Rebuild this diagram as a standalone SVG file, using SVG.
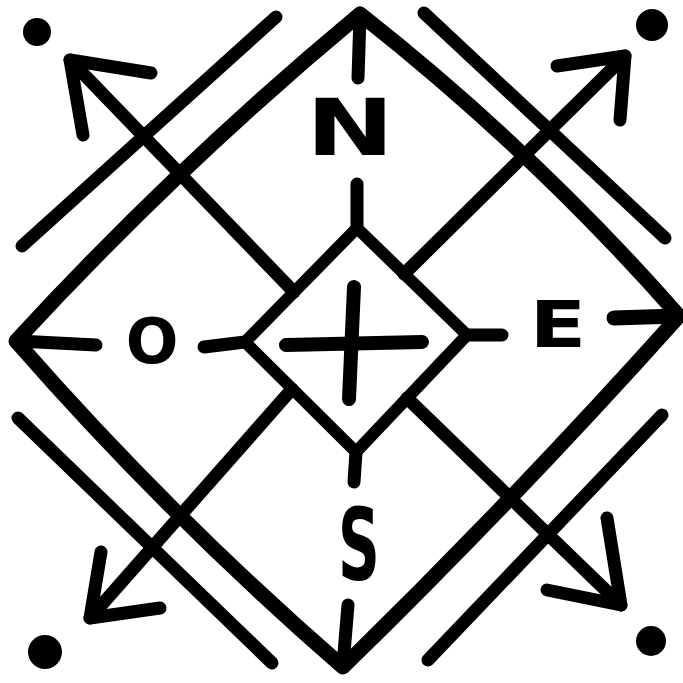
<svg xmlns="http://www.w3.org/2000/svg" width="683" height="683" viewBox="0 0 683 683">
  <style>
    .ln { fill: none; stroke: #000; stroke-linecap: round; stroke-linejoin: round; }
    .big { stroke-width: 15; }
    .mid { stroke-width: 13; }
    .thin { stroke-width: 12; }
    .dot { fill: #000; }
    .lbl { font-family: "DejaVu Sans", "Liberation Sans", sans-serif; font-weight: bold; fill: #000; text-anchor: middle; }
  </style>
  <rect width="683" height="683" fill="#fff"/>

  <g id="outer-diamond">
    <path class="ln big" d="M360,14 Q533,150 679,316 Q517,497 343,667 Q168,515 16,341 Q177,166 360,14 Z"/>
    <path class="ln mid" d="M360,16 L358,78"/>
    <path class="ln big" d="M677,316 L614,318"/>
    <path class="ln mid" d="M343,665 L348,605"/>
    <path class="ln mid" d="M18,341 L96,345"/>
  </g>

  <g id="outer-lines">
    <path class="ln mid" d="M276,17 L22,246"/>
    <path class="ln mid" d="M424,13 L665,238"/>
    <path class="ln mid" d="M18,418 L272,663"/>
    <path class="ln mid" d="M662,415 L428,660"/>
  </g>

  <g id="inner-diamond">
    <path class="ln thin" d="M357,228 L467,335 L356,452 L245,342 Z"/>
    <path class="ln mid" d="M357,228 L357,184"/>
    <path class="ln mid" d="M467,335 L502,335"/>
    <path class="ln mid" d="M356,452 L354,482"/>
    <path class="ln mid" d="M245,342 L204,347"/>
  </g>

  <g id="cross">
    <path class="ln" stroke-width="14" d="M286,345 L422,342"/>
    <path class="ln" stroke-width="14" d="M354,287 L349,399"/>
  </g>

  <g id="arrows">
    <g id="arrow-nw">
      <path class="ln mid" d="M294,292 L70,60"/>
      <path class="ln mid" d="M151,73 L70,60 L83,135"/>
    </g>
    <g id="arrow-ne">
      <path class="ln mid" d="M404,274 L625,56"/>
      <path class="ln mid" d="M557,66 L625,56 L620,120"/>
    </g>
    <g id="arrow-se">
      <path class="ln mid" d="M407,398 L621,605"/>
      <path class="ln mid" d="M607,518 L621,605 L547,590"/>
    </g>
    <g id="arrow-sw">
      <path class="ln mid" d="M292,389 L90,618"/>
      <path class="ln mid" d="M101,552 L90,618 L160,608"/>
    </g>
  </g>

  <g id="dots">
    <circle class="dot" cx="37" cy="32" r="14"/>
    <circle class="dot" cx="652" cy="25" r="16"/>
    <circle class="dot" cx="45" cy="652" r="17"/>
    <circle class="dot" cx="651" cy="641" r="15"/>
  </g>

  <g id="labels">
    <text class="lbl" font-size="78" transform="translate(350,155) scale(1.35,1)">N</text>
    <text class="lbl" font-size="62" x="152" y="363">O</text>
    <text class="lbl" font-size="64" transform="translate(558,347) scale(1.3,1)">E</text>
    <text class="lbl" font-size="100" transform="translate(359,580) scale(0.58,1)">S</text>
  </g>
</svg>
